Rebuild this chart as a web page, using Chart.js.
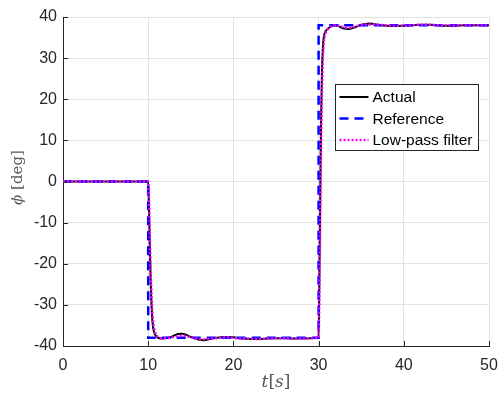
<!DOCTYPE html>
<html>
<head>
<meta charset="utf-8">
<script src="https://cdn.jsdelivr.net/npm/chart.js@4.4.0/dist/chart.umd.min.js"></script>
<style>
  html, body { margin: 0; padding: 0; background: #fff; }
  #phi-chart { display: block; }
</style>
</head>
<body>
<canvas id="phi-chart" width="499" height="396"></canvas>
<script>
// time samples [s] shared by the measured and filtered signals
const time = [0, 10, 10.1, 10.2, 10.3, 10.4, 10.5, 10.6, 10.8, 11.0, 11.3, 11.6,
  12, 12.5, 13, 13.5, 14, 14.5, 15, 15.5, 16, 16.5, 17, 17.5, 18, 18.5, 19, 19.5, 20,
  21, 22, 23, 24, 25, 26, 27, 28, 29, 30,
  30.1, 30.2, 30.3, 30.4, 30.5, 30.6, 30.7, 30.8, 31, 31.3, 31.6,
  32, 32.5, 33, 33.5, 34, 34.5, 35, 35.5, 36, 36.5, 37,
  38, 39, 40, 41, 42, 43, 44, 45, 46, 47, 48, 49, 50];

const actual = [0, 0, -7, -17, -25, -30.5, -34, -35.8, -37.2, -37.8, -38.1, -38.2,
  -38.1, -37.9, -37.5, -37.1, -37.0, -37.3, -37.8, -38.2, -38.5, -38.6, -38.4, -38.2, -38.0, -37.9, -37.8, -37.8, -37.9,
  -38.2, -38.3, -38.3, -38.2, -38.1, -38.1, -38.2, -38.2, -38.1, -38.0,
  -22, -2, 16, 27, 32.5, 35, 36, 36.5, 37.0, 37.5, 37.9,
  38.0, 37.6, 37.2, 37.1, 37.3, 37.7, 38.1, 38.3, 38.4, 38.3, 38.1,
  37.9, 37.8, 37.9, 38.0, 38.1, 38.1, 38.0, 37.9, 37.9, 38.0, 38.0, 38.0, 38.0];

const lowPass = [0, 0, -5, -14, -22, -28, -32, -34.5, -36.6, -37.5, -38.0, -38.1,
  -38.1, -38.0, -37.8, -37.6, -37.5, -37.6, -37.9, -38.1, -38.3, -38.4, -38.3, -38.2, -38.1, -38.0, -37.9, -37.9, -38.0,
  -38.2, -38.2, -38.3, -38.2, -38.1, -38.1, -38.2, -38.2, -38.1, -38.0,
  -26, -7, 11, 23, 30, 33.5, 35.2, 36.0, 36.8, 37.5, 37.9,
  38.0, 37.8, 37.5, 37.4, 37.5, 37.8, 38.0, 38.2, 38.2, 38.2, 38.1,
  38.0, 37.9, 37.9, 38.0, 38.1, 38.1, 38.0, 38.0, 37.9, 38.0, 38.0, 38.0, 38.0];

// commanded angle: step down at 10 s, step up at 30 s
const refTime = [0, 10, 10, 30, 30, 50];
const refValue = [0, 0, -38, -38, 38, 38];

const tickFont = { family: "'Liberation Sans', Arial, sans-serif", size: 16 };
const axisInk = '#262626';

function pairs(xs, ys) {
  return xs.map((x, i) => ({ x: x, y: ys[i] }));
}

// keep the plot box fixed: no extra room for overhanging tick labels
function noOverhang(s) {
  s.paddingLeft = 0; s.paddingRight = 0; s.paddingTop = 0; s.paddingBottom = 0;
}

// MATLAB-style inward tick marks, serif axis labels and the boxed legend
const decorations = {
  id: 'decorations',
  afterDatasetsDraw(chart) {
    const ctx = chart.ctx;
    const area = chart.chartArea;
    const xs = chart.scales.x, ys = chart.scales.y;

    ctx.save();
    ctx.strokeStyle = axisInk;
    ctx.lineWidth = 1;
    ctx.beginPath();
    xs.ticks.forEach(t => {
      const px = Math.round(xs.getPixelForValue(t.value)) + 0.5;
      ctx.moveTo(px, area.bottom);
      ctx.lineTo(px, area.bottom - 5);
    });
    ys.ticks.forEach(t => {
      const py = Math.round(ys.getPixelForValue(t.value)) + 0.5;
      ctx.moveTo(area.left, py);
      ctx.lineTo(area.left + 5, py);
    });
    ctx.stroke();

    // legend box
    const w = area.right - area.left, h = area.bottom - area.top;
    const bx = Math.round(area.left + 0.638 * w) + 0.5;
    const by = Math.round(area.top + 0.204 * h) + 0.5;
    const bw = 143, bh = 66, rowH = 21.5;
    ctx.fillStyle = '#fff';
    ctx.fillRect(bx, by, bw, bh);
    ctx.strokeStyle = axisInk;
    ctx.strokeRect(bx, by, bw, bh);
    ctx.font = "15.5px 'Liberation Sans', Arial, sans-serif";
    ctx.textBaseline = 'middle';
    ctx.textAlign = 'left';
    chart.data.datasets.forEach((ds, i) => {
      const cy = by + 12.5 + i * rowH;
      ctx.save();
      ctx.strokeStyle = ds.borderColor;
      ctx.lineWidth = ds.borderWidth;
      ctx.setLineDash(ds.borderDash || []);
      ctx.beginPath();
      ctx.moveTo(bx + 4, cy);
      ctx.lineTo(bx + 33, cy);
      ctx.stroke();
      ctx.restore();
      ctx.fillStyle = '#000';
      ctx.fillText(ds.label, bx + 37, cy + 1);
    });
    ctx.restore();
  },
  afterDraw(chart) {
    const ctx = chart.ctx;
    const area = chart.chartArea;
    ctx.save();
    ctx.fillStyle = '#555555';
    ctx.textBaseline = 'middle';

    // x label: t[s]
    const xParts = [
      { text: 't', font: "italic 17px 'DejaVu Serif', serif" },
      { text: '[', font: "17px 'DejaVu Serif', serif" },
      { text: 's', font: "italic 17px 'DejaVu Serif', serif" },
      { text: ']', font: "17px 'DejaVu Serif', serif" }
    ];
    drawParts(ctx, xParts, (area.left + area.right) / 2, 383);

    // y label: phi [deg], rotated
    ctx.translate(18, (area.top + area.bottom) / 2 - 4);
    ctx.rotate(-Math.PI / 2);
    const yParts = [
      { text: '\u03D5', font: "italic 15px 'DejaVu Serif', serif" },
      { text: ' [deg]', font: "15px 'DejaVu Serif', serif" }
    ];
    drawParts(ctx, yParts, 0, 0);
    ctx.restore();
  }
};

function drawParts(ctx, parts, cx, cy) {
  let total = 0;
  parts.forEach(p => { ctx.font = p.font; p.w = ctx.measureText(p.text).width; total += p.w; });
  let x = cx - total / 2;
  ctx.textAlign = 'left';
  parts.forEach(p => { ctx.font = p.font; ctx.fillText(p.text, x, cy); x += p.w; });
}

new Chart('phi-chart', {
  type: 'line',
  data: {
    datasets: [{
      label: 'Actual',
      data: pairs(time, actual),
      borderColor: '#000000',
      borderWidth: 2,
      cubicInterpolationMode: 'monotone',
      pointRadius: 0,
      order: 2
    }, {
      label: 'Reference',
      data: pairs(refTime, refValue),
      borderColor: '#0000ff',
      borderWidth: 2.5,
      borderDash: [9, 6],
      tension: 0,
      pointRadius: 0,
      order: 1
    }, {
      label: 'Low-pass filter',
      data: pairs(time, lowPass),
      borderColor: '#ff00ff',
      borderWidth: 2.5,
      borderDash: [2, 2],
      cubicInterpolationMode: 'monotone',
      pointRadius: 0,
      order: 0
    }]
  },
  options: {
    responsive: false,
    animation: false,
    events: [],
    layout: { padding: { top: 17, right: 10, left: 0, bottom: 0 } },
    plugins: {
      legend: { display: false },
      tooltip: { enabled: false }
    },
    scales: {
      x: {
        type: 'linear',
        min: 0, max: 50,
        afterFit: s => { s.height = 50; noOverhang(s); },
        ticks: { stepSize: 10, color: axisInk, font: tickFont, padding: 10, maxRotation: 0 },
        grid: { color: '#e3e3e3', drawTicks: false },
        border: { display: true, color: axisInk, width: 1 }
      },
      y: {
        type: 'linear',
        min: -40, max: 40,
        afterFit: s => { s.width = 63; noOverhang(s); },
        ticks: { stepSize: 10, color: axisInk, font: tickFont, padding: 6 },
        grid: { color: '#e3e3e3', drawTicks: false },
        border: { display: true, color: axisInk, width: 1 }
      }
    }
  },
  plugins: [decorations]
});
</script>
</body>
</html>
